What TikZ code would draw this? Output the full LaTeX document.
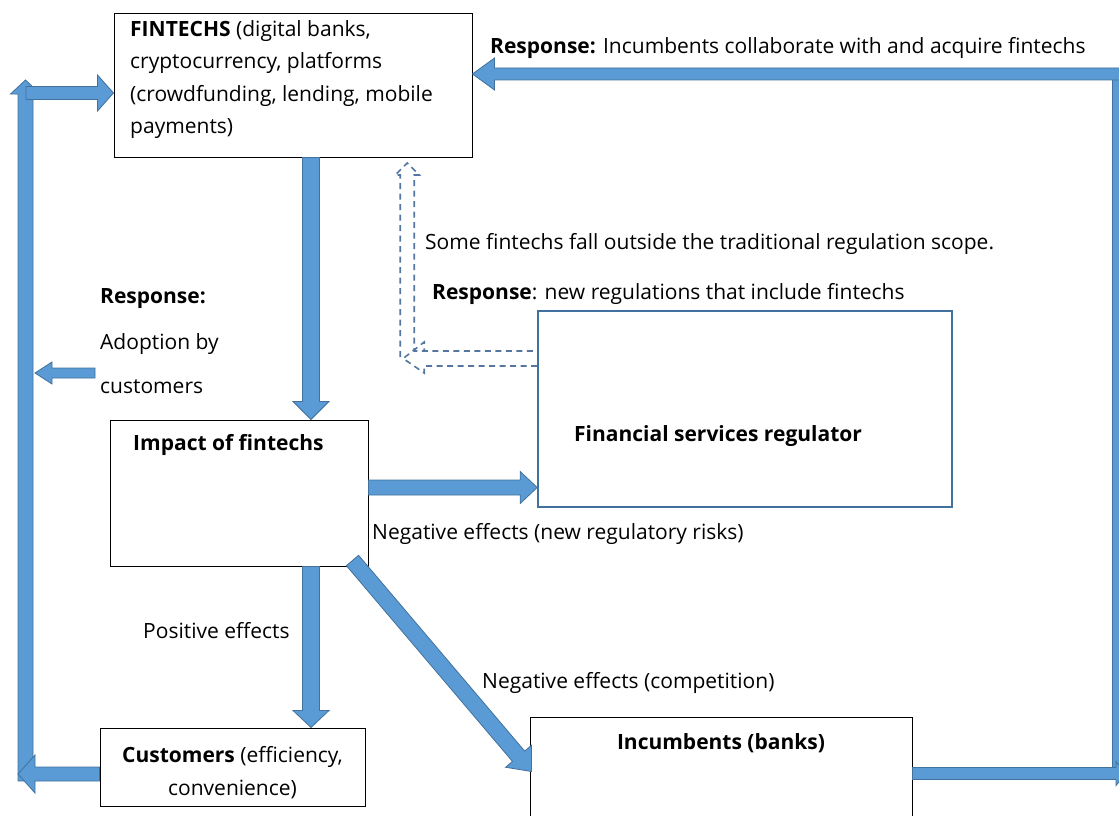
\documentclass[tikz,border=0pt]{standalone}
\usepackage{fontspec}
\setmainfont{Open Sans}
\usetikzlibrary{calc}

\definecolor{arrowfill}{RGB}{91,155,213}
\definecolor{arrowline}{RGB}{65,113,156}
\definecolor{dashline}{RGB}{84,118,160}

% Block arrow: #1 tail, #2 tip, #3 half shaft width, #4 half head width, #5 head length
\newcommand\blockarrow[5]{%
  \path #1 coordinate (ba-t) #2 coordinate (ba-p);
  \path ($(ba-p)!#5!(ba-t)$) coordinate (ba-h);
  \filldraw[blockarrowstyle]
    ($(ba-t)!#3!90:(ba-p)$) -- ($(ba-h)!#3!90:(ba-p)$) -- ($(ba-h)!#4!90:(ba-p)$)
    -- (ba-p)
    -- ($(ba-h)!#4!-90:(ba-p)$) -- ($(ba-h)!#3!-90:(ba-p)$) -- ($(ba-t)!#3!-90:(ba-p)$) -- cycle;}

\tikzset{
  blockarrowstyle/.style={fill=arrowfill, draw=arrowline, line width=0.8pt, line join=miter},
  box/.style={draw=black, line width=1pt, fill=white, inner sep=0pt},
  regbox/.style={draw=arrowline, line width=1.6pt, fill=white, inner sep=0pt},
  txt/.style={anchor=base west, inner sep=0pt, font=\fontsize{21}{25}\selectfont},
  ctxt/.style={anchor=base, inner sep=0pt, font=\fontsize{21}{25}\selectfont},
  dashedarrow/.style={draw=dashline, line width=1.6pt, dash pattern=on 6pt off 4.5pt}
}

\begin{document}
\begin{tikzpicture}[x=1pt,y=-1pt]
\useasboundingbox (0,0) rectangle (1119,816);

% boxes
\node[box, minimum width=358pt, minimum height=143pt] (fin) at (293,85.5) {};
\node[box, minimum width=258pt, minimum height=146pt] (impact) at (239,493) {};
\node[regbox, minimum width=414pt, minimum height=196pt] (reg) at (745,409) {};
\node[box, minimum width=265pt, minimum height=78pt] (cust) at (232.5,767) {};
\node[box, minimum width=382pt, minimum height=126pt] (inc) at (721,780) {};

% fintechs -> impact, impact -> customers
\blockarrow{([xshift=18pt]fin.south)}{([xshift=72pt]impact.north)}{8.5pt}{18pt}{18pt}
\blockarrow{([xshift=72pt]impact.south)}{([xshift=78.5pt]cust.north)}{8.5pt}{18pt}{17pt}

% impact -> regulator
\coordinate (ir) at ([yshift=5.5pt]impact.east);
\blockarrow{(ir)}{(ir -| reg.west)}{7.5pt}{16pt}{17pt}

% impact -> incumbents
\blockarrow{([shift={(-16pt,6pt)}]impact.south east)}{([shift={(2pt,-55pt)}]inc.north west)}{8pt}{17pt}{20pt}

% customers loop back to fintechs
\coordinate (cl) at ([yshift=-7pt]cust.west);
\coordinate (lbot) at (25.5,781);
\coordinate (ltop) at (25.5,80);
\coordinate (lfin) at (26,93);
\blockarrow{(lbot)}{(ltop)}{7.5pt}{15pt}{14pt}
\blockarrow{(cl)}{(cl -| 18,0)}{7pt}{19pt}{17pt}
\blockarrow{(lfin)}{(lfin -| fin.west)}{6.5pt}{18pt}{16pt}

% adoption by customers
\coordinate (adt) at (95,373);
\coordinate (adh) at (35,373);
\blockarrow{(adt)}{(adh)}{5pt}{11pt}{17pt}

% incumbents loop back to fintechs
\coordinate (ri) at ([yshift=6.5pt]inc.east);
\coordinate (rtop) at (1124,74);
\filldraw[blockarrowstyle] (1112,68) rectangle (1125,772);
\blockarrow{(ri)}{(ri -| 1126,0)}{6pt}{12pt}{10pt}
\blockarrow{(rtop)}{(rtop -| fin.east)}{6pt}{16pt}{22pt}

% regulator -> fintechs (dashed outline arrow)
\coordinate (dq) at ([yshift=50.5pt]reg.west);
\draw[dashedarrow] ($(dq)+(-137,-1.5)$) -- ($(dq)+(-137,-183.5)$) -- ($(dq)+(-142,-183.5)$)
  -- ($(dq)+(-130,-195.5)$) -- ($(dq)+(-118,-183.5)$) -- ($(dq)+(-123,-183.5)$)
  -- ($(dq)+(-123,-7.5)$) -- ($(dq)+(0,-7.5)$);
\draw[dashedarrow] ($(dq)+(0,7.5)$) -- ($(dq)+(-113,7.5)$) -- ($(dq)+(-113,14.5)$)
  -- ($(dq)+(-134,0)$) -- ($(dq)+(-113,-16.5)$) -- ($(dq)+(-113,-7.5)$);

% texts
\node[txt] (f1) at (130,37) {\textbf{FINTECHS} (digital banks,};
\node[txt] (f2) at (130,69) {cryptocurrency, platforms};
\node[txt] (f3) at (130,101) {(crowdfunding, lending, mobile};
\node[txt] (f4) at (130,133) {payments)};

\node[txt] (resp1) at (490,54) {\textbf{Response:} Incumbents collaborate with and acquire fintechs};
\node[txt] (scope) at (425,249) {Some fintechs fall outside the traditional regulation scope.};
\node[txt] (resp2) at (432,299) {\textbf{Response}: new regulations that include fintechs};

\node[txt] (resp3) at (100,303) {\textbf{Response:}};
\node[txt] (adopt1) at (100,349) {Adoption by};
\node[txt] (adopt2) at (100,393) {customers};

\node[txt] (imptxt) at (133,450) {\textbf{Impact of fintechs}};
\node[txt] (regtxt) at (574,441) {\textbf{Financial services regulator}};
\node[txt] (neg1) at (372,539) {Negative effects (new regulatory risks)};
\node[txt] (pos) at (143,638) {Positive effects};
\node[txt] (neg2) at (482,688) {Negative effects (competition)};
\node[ctxt] (inctxt) at (721,749) {\textbf{Incumbents (banks)}};
\node[ctxt] (c1) at (232.5,762) {\textbf{Customers} (efficiency,};
\node[ctxt] (c2) at (232.5,795) {convenience)};
\end{tikzpicture}
\end{document}
